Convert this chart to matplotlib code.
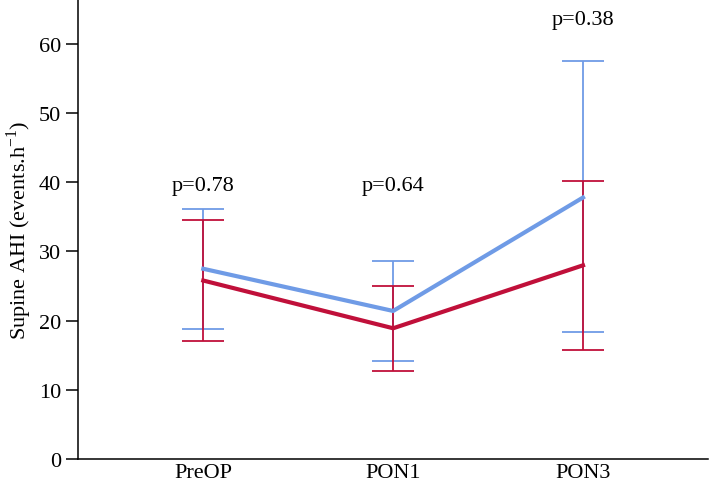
import matplotlib
matplotlib.use("Agg")
import matplotlib.pyplot as plt

plt.rcParams['font.family'] = ['Liberation Serif', 'DejaVu Serif']
plt.rcParams['mathtext.fontset'] = 'custom'
plt.rcParams['mathtext.rm'] = 'Liberation Serif'

categories = ['PreOP', 'PON1', 'PON3']
blue_mean = [27.5, 21.4, 37.8]
blue_low = [18.8, 14.2, 18.4]
blue_high = [36.2, 28.6, 57.5]
red_mean = [25.8, 18.9, 28.0]
red_low = [17.1, 12.7, 15.8]
red_high = [34.6, 25.0, 40.2]
p_labels = ['p=0.78', 'p=0.64', 'p=0.38']
p_heights = [39.5, 39.5, 63.5]

blue = '#6f9be6'
red = '#c0103a'

fig = plt.figure(figsize=(7.09, 4.89), dpi=100)
ax = fig.add_axes([0.110, 0.0593, 0.889, 0.9407])
X = range(len(categories))

for mean, low, high, col in [(blue_mean, blue_low, blue_high, blue),
                             (red_mean, red_low, red_high, red)]:
    err = [[m - l for m, l in zip(mean, low)], [h - m for m, h in zip(mean, high)]]
    ax.errorbar(X, mean, yerr=err, fmt='none', ecolor=col, elinewidth=1.3,
                capsize=15, capthick=1.3, zorder=2)

ax.plot(X, blue_mean, color=blue, lw=3.0, zorder=3)
ax.plot(X, red_mean, color=red, lw=3.0, zorder=4)

for i, txt in enumerate(p_labels):
    ax.text(i, p_heights[i], txt, ha='center', va='center', fontsize=16)

ax.set_xlim(-0.66, 2.66)
ax.set_ylim(0, 66.5)
ax.set_yticks(range(0, 61, 10))
ax.set_xticks(list(X))
ax.set_xticklabels(categories)
ax.tick_params(axis='x', length=0, pad=3, labelsize=16)
ax.tick_params(axis='y', length=9, width=1.1, labelsize=16, pad=3)
ax.set_ylabel(r'Supine AHI (events.h$^{\mathrm{-1}}$)', fontsize=16, labelpad=4)
for s in ['top', 'right']:
    ax.spines[s].set_visible(False)
for s in ['left', 'bottom']:
    ax.spines[s].set_linewidth(1.1)

fig.savefig('out.png', dpi=100)
